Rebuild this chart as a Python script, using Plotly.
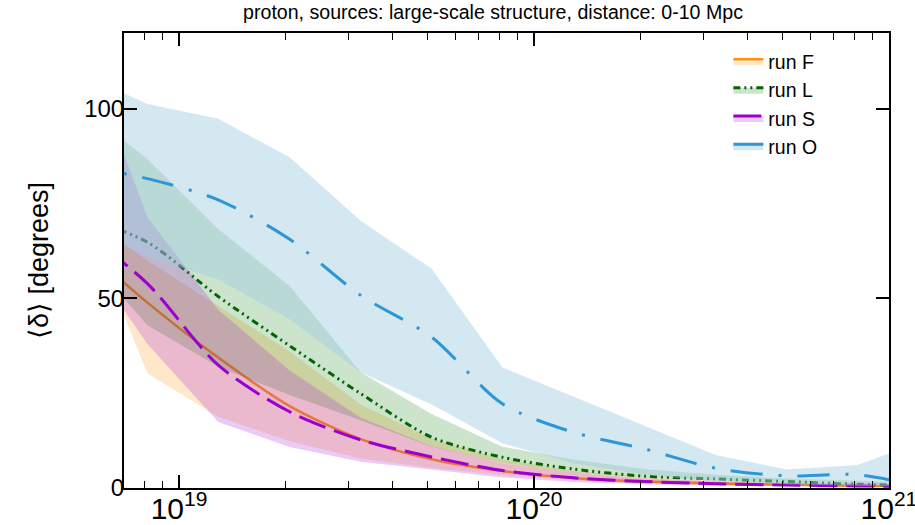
import numpy as np
import plotly.graph_objects as go

# energy bin centres [eV]
energy = [5.14e18, 8.15e18, 1.29e19, 2.05e19, 3.25e19, 5.15e19, 8.15e19,
          1.29e20, 2.05e20, 3.25e20, 5.15e20, 8.15e20, 1.29e21]

# mean deflection <delta> [degrees] per run
F_mean = [65.3, 48.9, 34.4, 21.6, 12.9, 7.6, 4.5, 2.65, 1.7, 1.2, 0.9, 0.6, 0.4]
F_low = [76.6, 30.2, 18.8, 12.3, 7.8, 5.3, 3.4, 2.0, 1.2, 0.8, 0.5, 0.35, 0.25]
F_high = [73.3, 60.0, 48.0, 36.0, 22.0, 13.0, 7.5, 4.5, 3.0, 2.0, 1.5, 1.1, 0.9]

L_mean = [72.1, 64.8, 50.5, 37.5, 24.9, 13.4, 8.1, 5.0, 3.1, 2.4, 1.7, 1.0, 0.6]
L_low = [64.4, 42.9, 32.0, 24.5, 17.9, 10.9, 6.6, 4.0, 2.8, 2.0, 1.4, 1.0, 0.8]
L_high = [101.3, 86.8, 68.3, 53.3, 30.5, 19.5, 10.9, 7.5, 5.0, 3.5, 2.5, 1.8, 1.3]

S_mean = [69.1, 53.9, 32.4, 20.1, 12.7, 8.2, 4.6, 2.7, 1.7, 1.1, 0.8, 0.55, 0.4]
S_low = [65.2, 38.0, 17.4, 10.8, 6.9, 4.8, 2.8, 1.6, 1.0, 0.6, 0.4, 0.3, 0.2]
S_high = [121.8, 71.4, 47.0, 31.0, 18.5, 11.0, 6.5, 4.0, 2.6, 1.8, 1.3, 1.0, 0.8]

O_mean = [85.2, 81.6, 76.0, 65.6, 50.8, 39.8, 22.2, 14.7, 10.3, 5.2, 3.2, 3.5, 0.0]
O_low = [70.1, 61.0, 55.0, 44.5, 30.5, 22.0, 11.8, 6.5, 3.5, 1.8, 1.0, 0.6, 0.3]
O_high = [109.8, 101.3, 97.4, 87.2, 70.5, 57.8, 31.8, 24.2, 16.4, 8.7, 4.9, 6.05, 12.9]

runs = ["run F", "run L", "run S", "run O"]
means = [F_mean, L_mean, S_mean, O_mean]
lows = [F_low, L_low, S_low, O_low]
highs = [F_high, L_high, S_high, O_high]

line_colors = ["#FF9010", "#046404", "#9A00D0", "#2E96D6"]
fill_colors = ["rgba(255,160,30,0.24)", "rgba(0,120,0,0.2)",
               "rgba(160,20,220,0.22)", "rgba(160,205,225,0.45)"]
dashes = ["solid", "7px,4px,2px,4px,2px,4px", "28px,9px", "32px,16px,3px,16px"]
widths = [2.5, 3, 3, 3]

fig = go.Figure()
for name, m, lo, hi, lc, fc, ds, w in zip(runs, means, lows, highs, line_colors,
                                           fill_colors, dashes, widths):
    fig.add_trace(go.Scatter(
        x=energy + energy[::-1], y=hi + lo[::-1], fill="toself", fillcolor=fc,
        line=dict(width=0), mode="lines", showlegend=False, hoverinfo="skip"))
    fig.add_trace(go.Scatter(
        x=energy, y=m, mode="lines", line=dict(width=0, color=fc, shape="spline", smoothing=0.8),
        showlegend=False, hoverinfo="skip"))
    fig.add_trace(go.Scatter(
        x=energy, y=m, mode="lines", name=name, fill="tonexty", fillcolor=fc,
        line=dict(color=lc, width=w, dash=ds, shape="spline", smoothing=0.8)))

fig.update_layout(
    width=915, height=525,
    margin=dict(l=124, r=26, t=33, b=37, autoexpand=False),
    paper_bgcolor="white", plot_bgcolor="white",
    font=dict(family="Liberation Sans, Arial, sans-serif", color="black"),
    title=dict(text="proton, sources: large-scale structure, distance: 0-10 Mpc",
               x=0.5388, xanchor="center", y=0.977, yanchor="middle",
               font=dict(size=19.6)),
    legend=dict(x=0.79, y=0.98, xanchor="left", yanchor="top",
                bgcolor="rgba(0,0,0,0)", font=dict(size=19.5), tracegroupgap=0,
                itemwidth=30, traceorder="normal"),
)
fig.update_xaxes(
    type="log", range=[np.log10(7e18), 21.0002], dtick=1, exponentformat="power",
    showline=True, linecolor="black", linewidth=2, mirror="ticks",
    ticks="inside", ticklen=13, tickwidth=1.5, tickcolor="black",
    tickfont=dict(size=24), showgrid=False, zeroline=False, automargin=False,
    ticklabeloverflow="allow", ticklabelstandoff=-6,
    minor=dict(ticks="inside", ticklen=7, tickwidth=1.2, tickcolor="black",
               dtick="D1", showgrid=False),
)
fig.update_yaxes(
    range=[0, 120], dtick=50, tick0=0,
    showline=True, linecolor="black", linewidth=2, mirror="ticks",
    ticks="inside", ticklen=13, tickwidth=1.5, tickcolor="black",
    tickfont=dict(size=24), showgrid=False, zeroline=False, automargin=False,
    ticklabelstandoff=-7,
    title=dict(text="⟨δ⟩ [degrees]", font=dict(size=27), standoff=28),
)

# remove the browser's default 8px page margin so the figure fills the window
fig.write_html("out.html", config={"displayModeBar": False},
               post_script="document.body.style.margin='0';")
